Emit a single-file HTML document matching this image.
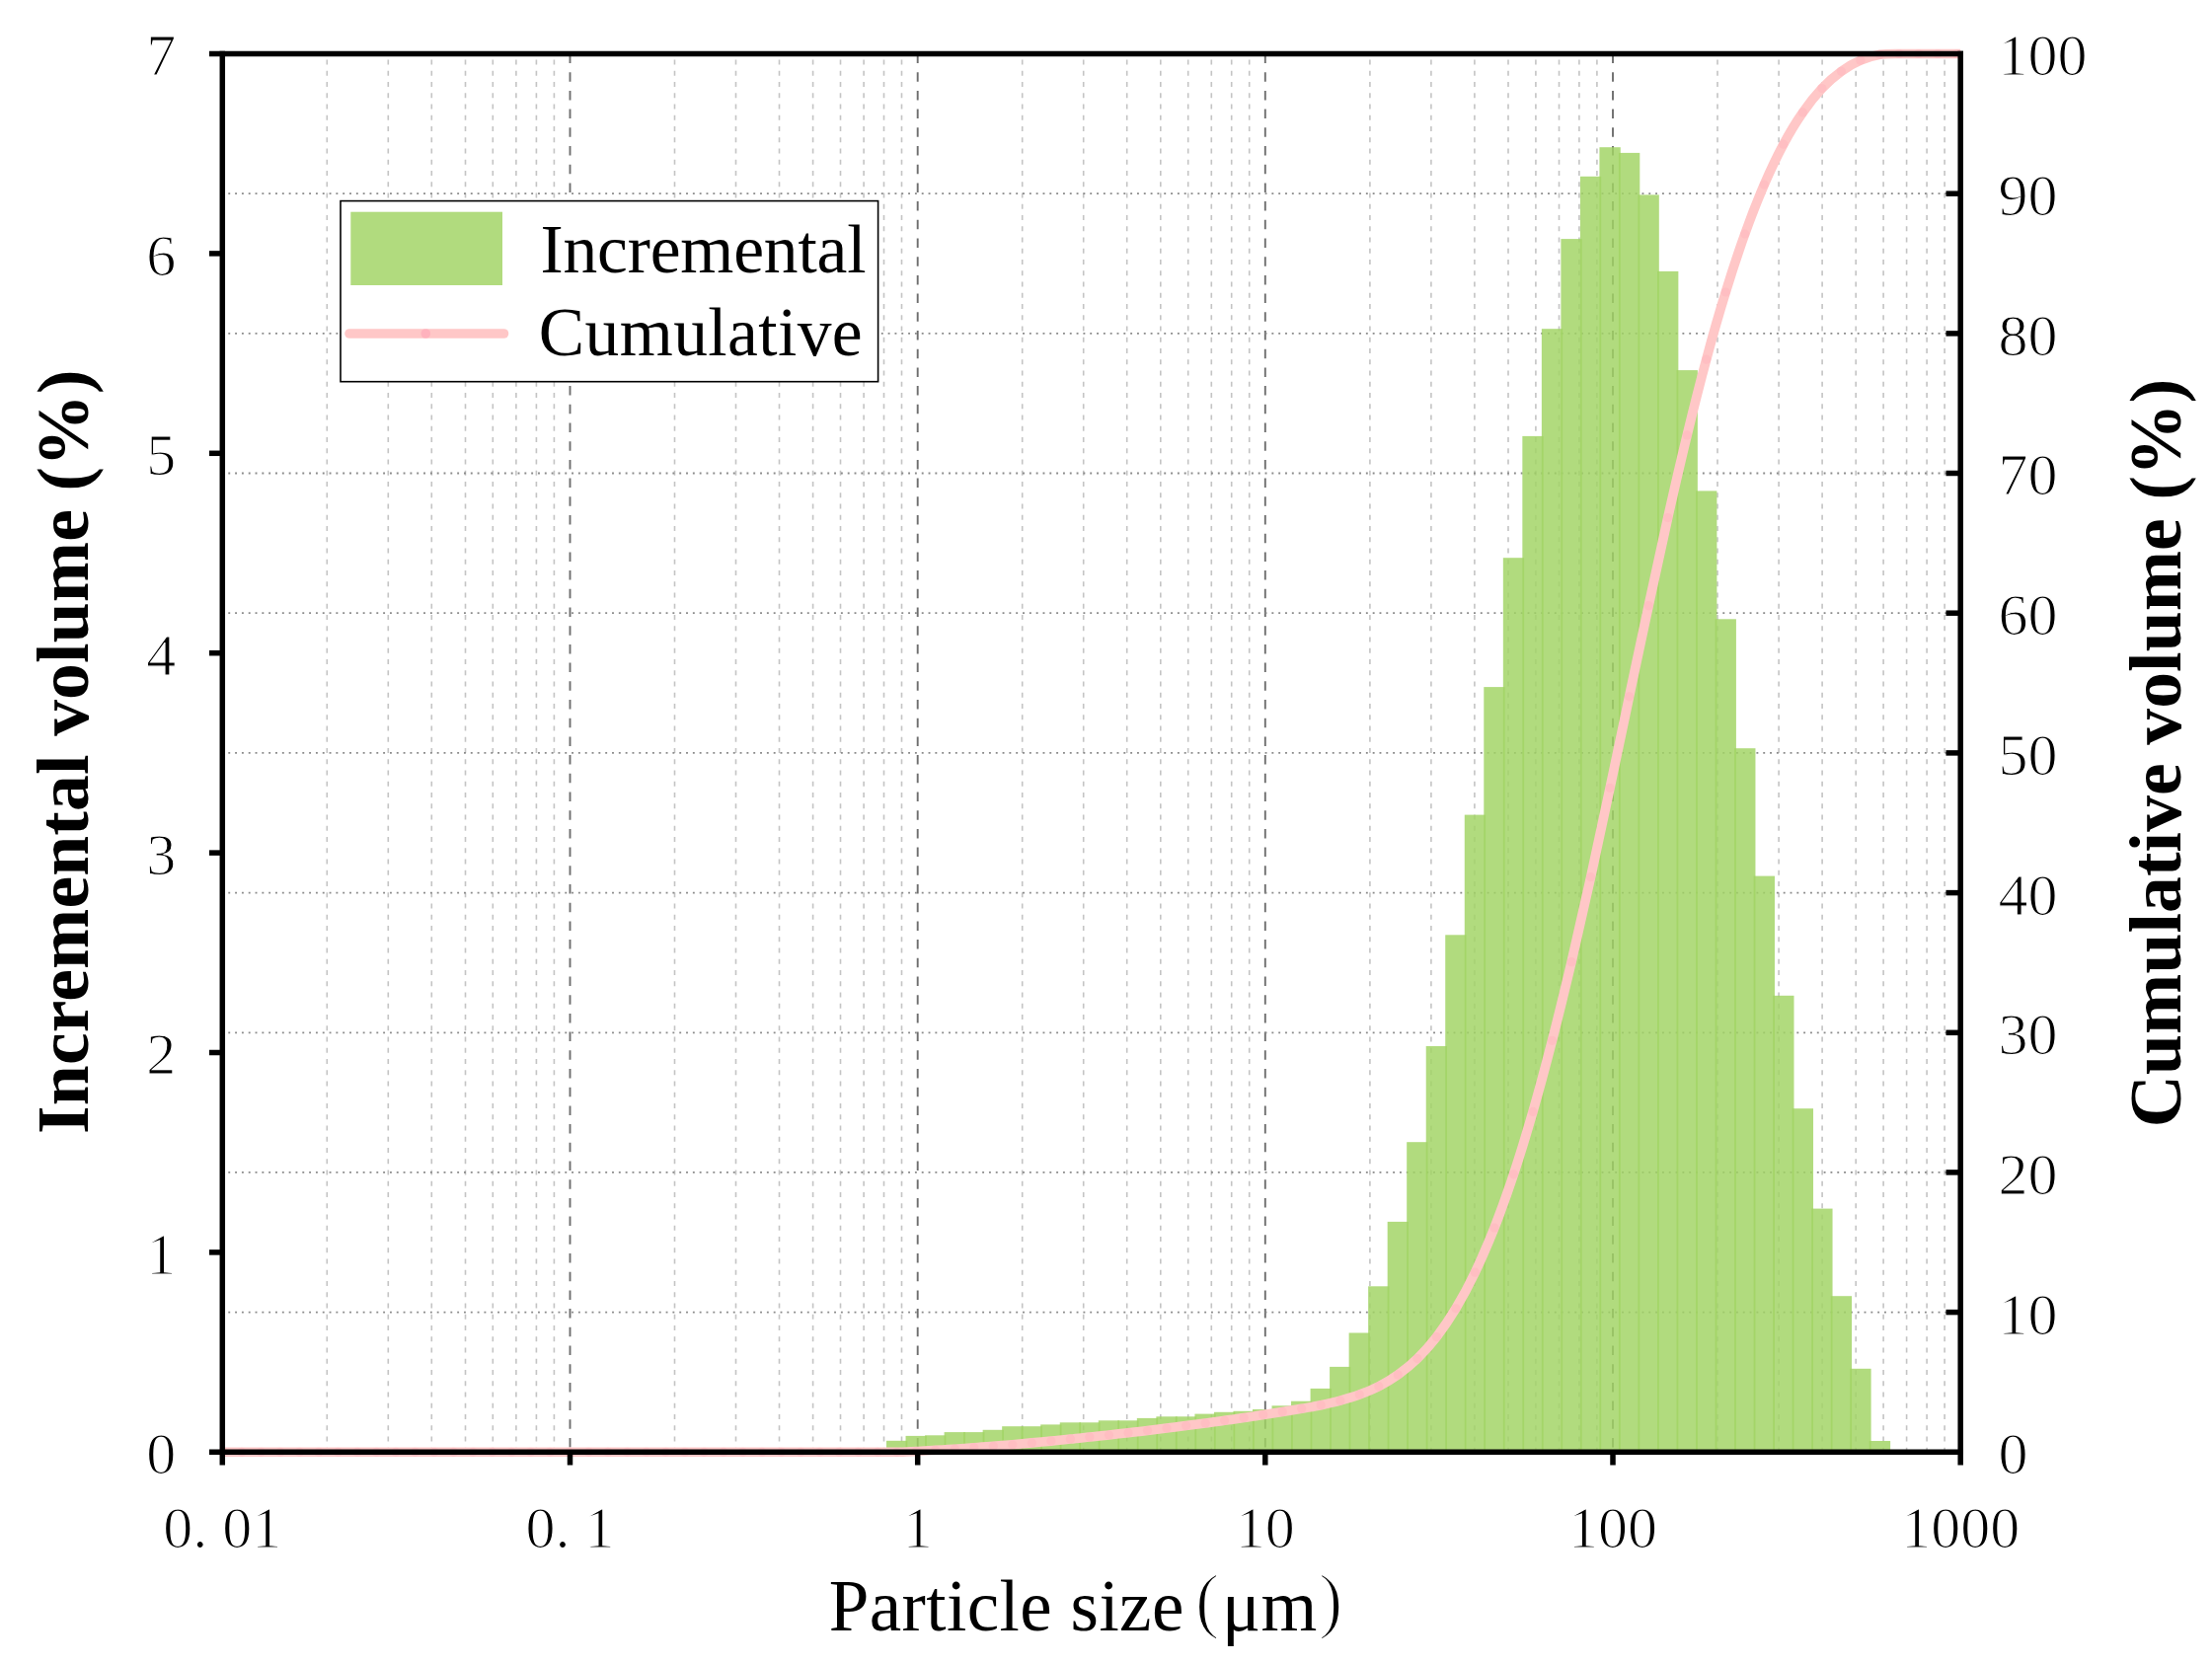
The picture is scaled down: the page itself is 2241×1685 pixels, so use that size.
<!DOCTYPE html>
<html lang="en"><head><meta charset="utf-8"><title>Particle size distribution</title>
<style>html,body{margin:0;padding:0;background:#fff;width:2241px;height:1685px;overflow:hidden}svg{display:block}text{font-family:"Liberation Serif","Noto Serif CJK SC",serif;fill:#000}.tk{font-size:60px;stroke:#fff;stroke-width:1.2px}.ttl{font-size:73.5px;font-weight:bold}.lg{font-size:69.5px}.pr{stroke:#fff;stroke-width:1.8px}</style></head><body>
<svg width="2241" height="1685" viewBox="0 0 2241 1685">
<rect width="2241" height="1685" fill="#fff"/>
<g id="grid" fill="none">
<g stroke="#c4c4c4" stroke-width="1.6" stroke-dasharray="5 6.25">
<line x1="331.3" y1="60.5" x2="331.3" y2="1471.3"/>
<line x1="393.3" y1="60.5" x2="393.3" y2="1471.3"/>
<line x1="437.3" y1="60.5" x2="437.3" y2="1471.3"/>
<line x1="471.5" y1="60.5" x2="471.5" y2="1471.3"/>
<line x1="499.3" y1="60.5" x2="499.3" y2="1471.3"/>
<line x1="522.9" y1="60.5" x2="522.9" y2="1471.3"/>
<line x1="543.4" y1="60.5" x2="543.4" y2="1471.3"/>
<line x1="561.4" y1="60.5" x2="561.4" y2="1471.3"/>
<line x1="683.5" y1="60.5" x2="683.5" y2="1471.3"/>
<line x1="745.5" y1="60.5" x2="745.5" y2="1471.3"/>
<line x1="789.5" y1="60.5" x2="789.5" y2="1471.3"/>
<line x1="823.6" y1="60.5" x2="823.6" y2="1471.3"/>
<line x1="851.5" y1="60.5" x2="851.5" y2="1471.3"/>
<line x1="875.1" y1="60.5" x2="875.1" y2="1471.3"/>
<line x1="895.5" y1="60.5" x2="895.5" y2="1471.3"/>
<line x1="913.5" y1="60.5" x2="913.5" y2="1471.3"/>
<line x1="1035.7" y1="60.5" x2="1035.7" y2="1471.3"/>
<line x1="1097.7" y1="60.5" x2="1097.7" y2="1471.3"/>
<line x1="1141.7" y1="60.5" x2="1141.7" y2="1471.3"/>
<line x1="1175.8" y1="60.5" x2="1175.8" y2="1471.3"/>
<line x1="1203.7" y1="60.5" x2="1203.7" y2="1471.3"/>
<line x1="1227.3" y1="60.5" x2="1227.3" y2="1471.3"/>
<line x1="1247.7" y1="60.5" x2="1247.7" y2="1471.3"/>
<line x1="1265.7" y1="60.5" x2="1265.7" y2="1471.3"/>
<line x1="1387.9" y1="60.5" x2="1387.9" y2="1471.3"/>
<line x1="1449.9" y1="60.5" x2="1449.9" y2="1471.3"/>
<line x1="1493.9" y1="60.5" x2="1493.9" y2="1471.3"/>
<line x1="1528.0" y1="60.5" x2="1528.0" y2="1471.3"/>
<line x1="1555.9" y1="60.5" x2="1555.9" y2="1471.3"/>
<line x1="1579.5" y1="60.5" x2="1579.5" y2="1471.3"/>
<line x1="1599.9" y1="60.5" x2="1599.9" y2="1471.3"/>
<line x1="1617.9" y1="60.5" x2="1617.9" y2="1471.3"/>
<line x1="1740.0" y1="60.5" x2="1740.0" y2="1471.3"/>
<line x1="1802.1" y1="60.5" x2="1802.1" y2="1471.3"/>
<line x1="1846.1" y1="60.5" x2="1846.1" y2="1471.3"/>
<line x1="1880.2" y1="60.5" x2="1880.2" y2="1471.3"/>
<line x1="1908.1" y1="60.5" x2="1908.1" y2="1471.3"/>
<line x1="1931.6" y1="60.5" x2="1931.6" y2="1471.3"/>
<line x1="1952.1" y1="60.5" x2="1952.1" y2="1471.3"/>
<line x1="1970.1" y1="60.5" x2="1970.1" y2="1471.3"/>
</g>
<g stroke="#6e6e6e" stroke-width="1.9" stroke-dasharray="9.5 9.2">
<line x1="577.5" y1="54.5" x2="577.5" y2="1471.3"/>
<line x1="929.7" y1="54.5" x2="929.7" y2="1471.3"/>
<line x1="1281.8" y1="54.5" x2="1281.8" y2="1471.3"/>
<line x1="1634.0" y1="54.5" x2="1634.0" y2="1471.3"/>
</g>
<g stroke="#8a8a8a" stroke-width="1.8" stroke-dasharray="1.9 4.92">
<line x1="231.3" y1="1329.6" x2="1972.2" y2="1329.6"/>
<line x1="231.3" y1="1187.9" x2="1972.2" y2="1187.9"/>
<line x1="231.3" y1="1046.3" x2="1972.2" y2="1046.3"/>
<line x1="231.3" y1="904.6" x2="1972.2" y2="904.6"/>
<line x1="231.3" y1="762.9" x2="1972.2" y2="762.9"/>
<line x1="231.3" y1="621.2" x2="1972.2" y2="621.2"/>
<line x1="231.3" y1="479.5" x2="1972.2" y2="479.5"/>
<line x1="231.3" y1="337.9" x2="1972.2" y2="337.9"/>
<line x1="231.3" y1="196.2" x2="1972.2" y2="196.2"/>
</g></g>
<g id="bars" fill="rgb(161,212,100)" fill-opacity="0.83">
<rect x="898.02" y="1459.8" width="21.33" height="11.5"/>
<rect x="917.54" y="1454.9" width="21.33" height="16.4"/>
<rect x="937.07" y="1454.3" width="21.33" height="17.0"/>
<rect x="956.59" y="1451.1" width="21.33" height="20.2"/>
<rect x="976.12" y="1451.1" width="21.33" height="20.2"/>
<rect x="995.64" y="1448.8" width="21.33" height="22.5"/>
<rect x="1015.17" y="1445.2" width="21.33" height="26.1"/>
<rect x="1034.69" y="1445.2" width="21.33" height="26.1"/>
<rect x="1054.22" y="1443.4" width="21.33" height="27.9"/>
<rect x="1073.74" y="1441.3" width="21.33" height="30.0"/>
<rect x="1093.27" y="1441.3" width="21.33" height="30.0"/>
<rect x="1112.79" y="1439.3" width="21.33" height="32.0"/>
<rect x="1132.32" y="1439.3" width="21.33" height="32.0"/>
<rect x="1151.84" y="1436.9" width="21.33" height="34.4"/>
<rect x="1171.37" y="1435.3" width="21.33" height="36.0"/>
<rect x="1190.89" y="1435.3" width="21.33" height="36.0"/>
<rect x="1210.42" y="1432.6" width="21.33" height="38.7"/>
<rect x="1229.94" y="1430.8" width="21.33" height="40.5"/>
<rect x="1249.47" y="1429.8" width="21.33" height="41.5"/>
<rect x="1268.99" y="1428.0" width="21.33" height="43.3"/>
<rect x="1288.52" y="1424.3" width="21.33" height="47.0"/>
<rect x="1308.04" y="1419.7" width="21.33" height="51.6"/>
<rect x="1327.57" y="1406.9" width="21.33" height="64.4"/>
<rect x="1347.09" y="1384.9" width="21.33" height="86.4"/>
<rect x="1366.62" y="1350.5" width="21.33" height="120.8"/>
<rect x="1386.14" y="1303.3" width="21.33" height="168.0"/>
<rect x="1405.67" y="1237.9" width="21.33" height="233.4"/>
<rect x="1425.19" y="1157.2" width="21.33" height="314.1"/>
<rect x="1444.72" y="1060.0" width="21.33" height="411.3"/>
<rect x="1464.24" y="947.3" width="21.33" height="524.0"/>
<rect x="1483.77" y="825.6" width="21.33" height="645.7"/>
<rect x="1503.29" y="696.1" width="21.33" height="775.2"/>
<rect x="1522.82" y="565.2" width="21.33" height="906.1"/>
<rect x="1542.34" y="441.9" width="21.33" height="1029.4"/>
<rect x="1561.87" y="333.2" width="21.33" height="1138.1"/>
<rect x="1581.39" y="242.1" width="21.33" height="1229.2"/>
<rect x="1600.92" y="178.8" width="21.33" height="1292.5"/>
<rect x="1620.44" y="149.2" width="21.33" height="1322.1"/>
<rect x="1639.97" y="154.9" width="21.33" height="1316.4"/>
<rect x="1659.49" y="197.4" width="21.33" height="1273.9"/>
<rect x="1679.02" y="274.9" width="21.33" height="1196.4"/>
<rect x="1698.54" y="375.1" width="21.33" height="1096.2"/>
<rect x="1718.07" y="497.4" width="21.33" height="973.9"/>
<rect x="1737.60" y="627.3" width="21.33" height="844.0"/>
<rect x="1757.12" y="758.2" width="21.33" height="713.1"/>
<rect x="1776.65" y="887.6" width="21.33" height="583.7"/>
<rect x="1796.17" y="1008.8" width="21.33" height="462.5"/>
<rect x="1815.70" y="1123.2" width="21.33" height="348.1"/>
<rect x="1835.22" y="1224.6" width="21.33" height="246.7"/>
<rect x="1854.75" y="1313.2" width="21.33" height="158.1"/>
<rect x="1874.27" y="1386.8" width="21.33" height="84.5"/>
<rect x="1893.80" y="1460.0" width="21.33" height="11.3"/>
</g>
<path d="M225.3,1471.3 C228.6,1471.3 238.3,1471.3 244.8,1471.3 C251.3,1471.3 257.8,1471.3 264.4,1471.3 C270.9,1471.3 277.4,1471.3 283.9,1471.3 C290.4,1471.3 296.9,1471.3 303.4,1471.3 C309.9,1471.3 316.4,1471.3 322.9,1471.3 C329.4,1471.3 335.9,1471.3 342.5,1471.3 C349.0,1471.3 355.5,1471.3 362.0,1471.3 C368.5,1471.3 375.0,1471.3 381.5,1471.3 C388.0,1471.3 394.5,1471.3 401.0,1471.3 C407.5,1471.3 414.0,1471.3 420.6,1471.3 C427.1,1471.3 433.6,1471.3 440.1,1471.3 C446.6,1471.3 453.1,1471.3 459.6,1471.3 C466.1,1471.3 472.6,1471.3 479.1,1471.3 C485.6,1471.3 492.1,1471.3 498.7,1471.3 C505.2,1471.3 511.7,1471.3 518.2,1471.3 C524.7,1471.3 531.2,1471.3 537.7,1471.3 C544.2,1471.3 550.7,1471.3 557.2,1471.3 C563.7,1471.3 570.2,1471.3 576.8,1471.3 C583.3,1471.3 589.8,1471.3 596.3,1471.3 C602.8,1471.3 609.3,1471.3 615.8,1471.3 C622.3,1471.3 628.8,1471.3 635.3,1471.3 C641.8,1471.3 648.3,1471.3 654.9,1471.3 C661.4,1471.3 667.9,1471.3 674.4,1471.3 C680.9,1471.3 687.4,1471.3 693.9,1471.3 C700.4,1471.3 706.9,1471.3 713.4,1471.3 C719.9,1471.3 726.4,1471.3 733.0,1471.3 C739.5,1471.3 746.0,1471.3 752.5,1471.3 C759.0,1471.3 765.5,1471.3 772.0,1471.3 C778.5,1471.3 785.0,1471.3 791.5,1471.3 C798.0,1471.3 804.5,1471.3 811.1,1471.3 C817.6,1471.3 824.1,1471.3 830.6,1471.3 C837.1,1471.3 843.6,1471.3 850.1,1471.3 C856.6,1471.3 863.1,1471.3 869.6,1471.3 C876.1,1471.3 882.6,1471.3 889.2,1471.3 C895.7,1471.3 902.2,1471.3 908.7,1471.3 C915.2,1471.2 921.7,1470.8 928.2,1470.5 C934.7,1470.2 941.2,1469.7 947.7,1469.3 C954.2,1469.0 960.7,1468.6 967.3,1468.2 C973.8,1467.7 980.3,1467.2 986.8,1466.7 C993.3,1466.3 999.8,1465.8 1006.3,1465.3 C1012.8,1464.8 1019.3,1464.3 1025.8,1463.8 C1032.3,1463.2 1038.8,1462.5 1045.4,1461.9 C1051.9,1461.3 1058.4,1460.7 1064.9,1460.1 C1071.4,1459.5 1077.9,1458.8 1084.4,1458.1 C1090.9,1457.5 1097.4,1456.7 1103.9,1456.0 C1110.4,1455.4 1116.9,1454.7 1123.5,1454.0 C1130.0,1453.2 1136.5,1452.5 1143.0,1451.7 C1149.5,1451.0 1156.0,1450.3 1162.5,1449.5 C1169.0,1448.7 1175.5,1447.9 1182.0,1447.1 C1188.5,1446.2 1195.0,1445.4 1201.6,1444.6 C1208.1,1443.7 1214.6,1442.9 1221.1,1442.0 C1227.6,1441.2 1234.1,1440.2 1240.6,1439.3 C1247.1,1438.4 1253.6,1437.4 1260.1,1436.5 C1266.6,1435.5 1273.1,1434.6 1279.7,1433.6 C1286.2,1432.6 1292.7,1431.6 1299.2,1430.6 C1305.7,1429.5 1312.2,1428.4 1318.7,1427.3 C1325.2,1426.1 1331.7,1425.0 1338.2,1423.7 C1344.7,1422.3 1351.2,1420.9 1357.8,1419.2 C1364.3,1417.4 1370.8,1415.5 1377.3,1413.1 C1383.8,1410.7 1390.3,1408.0 1396.8,1404.7 C1403.3,1401.3 1409.8,1397.6 1416.3,1392.9 C1422.8,1388.2 1429.3,1383.0 1435.9,1376.6 C1442.4,1370.2 1448.9,1363.1 1455.4,1354.6 C1461.9,1346.1 1468.4,1336.7 1474.9,1325.8 C1481.4,1314.9 1487.9,1302.8 1494.4,1289.2 C1500.9,1275.5 1507.4,1260.6 1514.0,1244.0 C1520.5,1227.4 1527.0,1209.4 1533.5,1189.8 C1540.0,1170.2 1546.5,1148.9 1553.0,1126.4 C1559.5,1103.8 1566.0,1079.6 1572.5,1054.3 C1579.0,1029.1 1585.5,1002.3 1592.1,974.7 C1598.6,947.1 1605.1,918.1 1611.6,888.7 C1618.1,859.3 1624.6,828.8 1631.1,798.3 C1637.6,767.8 1644.1,736.6 1650.6,705.8 C1657.1,675.0 1663.6,643.9 1670.2,613.7 C1676.7,583.5 1683.2,553.4 1689.7,524.6 C1696.2,495.8 1702.7,467.6 1709.2,440.9 C1715.7,414.1 1722.2,388.3 1728.7,364.2 C1735.2,340.0 1741.7,317.2 1748.3,296.0 C1754.8,274.8 1761.3,255.1 1767.8,237.0 C1774.3,218.8 1780.8,202.2 1787.3,187.1 C1793.8,172.0 1800.3,158.4 1806.8,146.2 C1813.3,134.0 1819.8,123.3 1826.4,113.9 C1832.9,104.4 1839.4,96.5 1845.9,89.5 C1852.4,82.6 1858.9,77.0 1865.4,72.3 C1871.9,67.5 1878.4,64.0 1884.9,61.2 C1891.4,58.4 1898.0,56.4 1904.5,55.3 C1911.0,54.5 1917.5,54.6 1924.0,54.5 C1930.5,54.5 1937.0,54.5 1943.5,54.5 C1950.0,54.5 1956.5,54.5 1963.0,54.5 C1969.5,54.5 1978.7,54.5 1982.6,54.5 C1986.4,54.5 1985.6,54.5 1986.2,54.5" fill="none" stroke="rgb(255,199,199)" stroke-width="9.6" stroke-linejoin="round" stroke-linecap="butt"/>
<g fill="rgb(255,170,185)" fill-opacity="0.32">
<circle cx="225.3" cy="1471.3" r="4.6"/>
<circle cx="244.8" cy="1471.3" r="4.6"/>
<circle cx="264.4" cy="1471.3" r="4.6"/>
<circle cx="283.9" cy="1471.3" r="4.6"/>
<circle cx="303.4" cy="1471.3" r="4.6"/>
<circle cx="322.9" cy="1471.3" r="4.6"/>
<circle cx="342.5" cy="1471.3" r="4.6"/>
<circle cx="362.0" cy="1471.3" r="4.6"/>
<circle cx="381.5" cy="1471.3" r="4.6"/>
<circle cx="401.0" cy="1471.3" r="4.6"/>
<circle cx="420.6" cy="1471.3" r="4.6"/>
<circle cx="440.1" cy="1471.3" r="4.6"/>
<circle cx="459.6" cy="1471.3" r="4.6"/>
<circle cx="479.1" cy="1471.3" r="4.6"/>
<circle cx="498.7" cy="1471.3" r="4.6"/>
<circle cx="518.2" cy="1471.3" r="4.6"/>
<circle cx="537.7" cy="1471.3" r="4.6"/>
<circle cx="557.2" cy="1471.3" r="4.6"/>
<circle cx="576.8" cy="1471.3" r="4.6"/>
<circle cx="596.3" cy="1471.3" r="4.6"/>
<circle cx="615.8" cy="1471.3" r="4.6"/>
<circle cx="635.3" cy="1471.3" r="4.6"/>
<circle cx="654.9" cy="1471.3" r="4.6"/>
<circle cx="674.4" cy="1471.3" r="4.6"/>
<circle cx="693.9" cy="1471.3" r="4.6"/>
<circle cx="713.4" cy="1471.3" r="4.6"/>
<circle cx="733.0" cy="1471.3" r="4.6"/>
<circle cx="752.5" cy="1471.3" r="4.6"/>
<circle cx="772.0" cy="1471.3" r="4.6"/>
<circle cx="791.5" cy="1471.3" r="4.6"/>
<circle cx="811.1" cy="1471.3" r="4.6"/>
<circle cx="830.6" cy="1471.3" r="4.6"/>
<circle cx="850.1" cy="1471.3" r="4.6"/>
<circle cx="869.6" cy="1471.3" r="4.6"/>
<circle cx="889.2" cy="1471.3" r="4.6"/>
<circle cx="908.7" cy="1471.3" r="4.6"/>
<circle cx="928.2" cy="1470.5" r="4.6"/>
<circle cx="947.7" cy="1469.3" r="4.6"/>
<circle cx="967.3" cy="1468.2" r="4.6"/>
<circle cx="986.8" cy="1466.7" r="4.6"/>
<circle cx="1006.3" cy="1465.3" r="4.6"/>
<circle cx="1025.8" cy="1463.8" r="4.6"/>
<circle cx="1045.4" cy="1461.9" r="4.6"/>
<circle cx="1064.9" cy="1460.1" r="4.6"/>
<circle cx="1084.4" cy="1458.1" r="4.6"/>
<circle cx="1103.9" cy="1456.0" r="4.6"/>
<circle cx="1123.5" cy="1454.0" r="4.6"/>
<circle cx="1143.0" cy="1451.7" r="4.6"/>
<circle cx="1162.5" cy="1449.5" r="4.6"/>
<circle cx="1182.0" cy="1447.1" r="4.6"/>
<circle cx="1201.6" cy="1444.6" r="4.6"/>
<circle cx="1221.1" cy="1442.0" r="4.6"/>
<circle cx="1240.6" cy="1439.3" r="4.6"/>
<circle cx="1260.1" cy="1436.5" r="4.6"/>
<circle cx="1279.7" cy="1433.6" r="4.6"/>
<circle cx="1299.2" cy="1430.6" r="4.6"/>
<circle cx="1318.7" cy="1427.3" r="4.6"/>
<circle cx="1338.2" cy="1423.7" r="4.6"/>
<circle cx="1357.8" cy="1419.2" r="4.6"/>
<circle cx="1377.3" cy="1413.1" r="4.6"/>
<circle cx="1396.8" cy="1404.7" r="4.6"/>
<circle cx="1416.3" cy="1392.9" r="4.6"/>
<circle cx="1435.9" cy="1376.6" r="4.6"/>
<circle cx="1455.4" cy="1354.6" r="4.6"/>
<circle cx="1474.9" cy="1325.8" r="4.6"/>
<circle cx="1494.4" cy="1289.2" r="4.6"/>
<circle cx="1514.0" cy="1244.0" r="4.6"/>
<circle cx="1533.5" cy="1189.8" r="4.6"/>
<circle cx="1553.0" cy="1126.4" r="4.6"/>
<circle cx="1572.5" cy="1054.3" r="4.6"/>
<circle cx="1592.1" cy="974.7" r="4.6"/>
<circle cx="1611.6" cy="888.7" r="4.6"/>
<circle cx="1631.1" cy="798.3" r="4.6"/>
<circle cx="1650.6" cy="705.8" r="4.6"/>
<circle cx="1670.2" cy="613.7" r="4.6"/>
<circle cx="1689.7" cy="524.6" r="4.6"/>
<circle cx="1709.2" cy="440.9" r="4.6"/>
<circle cx="1728.7" cy="364.2" r="4.6"/>
<circle cx="1748.3" cy="296.0" r="4.6"/>
<circle cx="1767.8" cy="237.0" r="4.6"/>
<circle cx="1787.3" cy="187.1" r="4.6"/>
<circle cx="1806.8" cy="146.2" r="4.6"/>
<circle cx="1826.4" cy="113.9" r="4.6"/>
<circle cx="1845.9" cy="89.5" r="4.6"/>
<circle cx="1865.4" cy="72.3" r="4.6"/>
<circle cx="1884.9" cy="61.2" r="4.6"/>
<circle cx="1904.5" cy="55.3" r="4.6"/>
<circle cx="1924.0" cy="54.5" r="4.6"/>
<circle cx="1943.5" cy="54.5" r="4.6"/>
<circle cx="1963.0" cy="54.5" r="4.6"/>
<circle cx="1982.6" cy="54.5" r="4.6"/>
</g>
<g id="axes" stroke="#000" stroke-width="5.5" fill="none" stroke-linecap="butt">
<line x1="212.0" y1="54.5" x2="1988.95" y2="54.5"/>
<line x1="212.0" y1="1471.3" x2="1988.95" y2="1471.3"/>
<line x1="225.3" y1="51.75" x2="225.3" y2="1484.5"/>
<line x1="1986.2" y1="51.75" x2="1986.2" y2="1484.5"/>
<line x1="212.0" y1="1268.9" x2="225.3" y2="1268.9"/>
<line x1="212.0" y1="1066.5" x2="225.3" y2="1066.5"/>
<line x1="212.0" y1="864.1" x2="225.3" y2="864.1"/>
<line x1="212.0" y1="661.7" x2="225.3" y2="661.7"/>
<line x1="212.0" y1="459.3" x2="225.3" y2="459.3"/>
<line x1="212.0" y1="256.9" x2="225.3" y2="256.9"/>
<line x1="577.5" y1="1471.3" x2="577.5" y2="1484.5"/>
<line x1="929.7" y1="1471.3" x2="929.7" y2="1484.5"/>
<line x1="1281.8" y1="1471.3" x2="1281.8" y2="1484.5"/>
<line x1="1634.0" y1="1471.3" x2="1634.0" y2="1484.5"/>
<line x1="1971.5" y1="1329.6" x2="1986.2" y2="1329.6"/>
<line x1="1971.5" y1="1187.9" x2="1986.2" y2="1187.9"/>
<line x1="1971.5" y1="1046.3" x2="1986.2" y2="1046.3"/>
<line x1="1971.5" y1="904.6" x2="1986.2" y2="904.6"/>
<line x1="1971.5" y1="762.9" x2="1986.2" y2="762.9"/>
<line x1="1971.5" y1="621.2" x2="1986.2" y2="621.2"/>
<line x1="1971.5" y1="479.5" x2="1986.2" y2="479.5"/>
<line x1="1971.5" y1="337.9" x2="1986.2" y2="337.9"/>
<line x1="1971.5" y1="196.2" x2="1986.2" y2="196.2"/>
</g>
<g class="tk">
<text x="163.3" y="1493.2" text-anchor="middle">0</text>
<text x="163.3" y="1290.8" text-anchor="middle">1</text>
<text x="163.3" y="1088.4" text-anchor="middle">2</text>
<text x="163.3" y="886.0" text-anchor="middle">3</text>
<text x="163.3" y="683.6" text-anchor="middle">4</text>
<text x="163.3" y="481.2" text-anchor="middle">5</text>
<text x="163.3" y="278.8" text-anchor="middle">6</text>
<text x="163.3" y="76.4" text-anchor="middle">7</text>
<text x="2024.5" y="1493.2">0</text>
<text x="2024.5" y="1351.5">10</text>
<text x="2024.5" y="1209.8">20</text>
<text x="2024.5" y="1068.2">30</text>
<text x="2024.5" y="926.5">40</text>
<text x="2024.5" y="784.8">50</text>
<text x="2024.5" y="643.1">60</text>
<text x="2024.5" y="501.4">70</text>
<text x="2024.5" y="359.8">80</text>
<text x="2024.5" y="218.1">90</text>
<text x="2024.5" y="76.4">100</text>
<text y="1568.3" x="165.3 195.3 225.3 255.3">0.01</text>
<text y="1568.3" x="532.5 562.5 592.5">0.1</text>
<text y="1568.3" x="929.7" text-anchor="middle">1</text>
<text y="1568.3" x="1281.8" text-anchor="middle">10</text>
<text y="1568.3" x="1634.0" text-anchor="middle">100</text>
<text y="1568.3" x="1986.2" text-anchor="middle">1000</text>
</g>
<text class="ttl" style="letter-spacing:0.2px" transform="translate(88.7 1149) rotate(-90)">Incremental volume (%)</text>
<text class="ttl" style="letter-spacing:0.15px" transform="translate(2208.7 1142.2) rotate(-90)">Cumulative volume (%)</text>
<text style="font-size:73px;letter-spacing:0.4px" x="839.8" y="1652">Particle size<tspan class="pr" x="1211" dy="-6">(</tspan><tspan x="1238" dy="6">μm</tspan><tspan class="pr" x="1336" dy="-6">)</tspan></text>
<g id="legend">
<rect x="345" y="203.6" width="544.6" height="183.1" fill="#fff" stroke="#000" stroke-width="1.6"/>
<rect x="355.3" y="214.7" width="153.7" height="74.3" fill="rgb(177,219,126)"/>
<line x1="354" y1="338" x2="510.5" y2="338" stroke="rgb(255,199,199)" stroke-width="9.6" stroke-linecap="round"/>
<circle cx="431.3" cy="338" r="4.8" fill="rgb(255,170,185)" fill-opacity="0.7"/>
<text class="lg" style="letter-spacing:-0.2px" x="547.6" y="275.5">Incremental</text>
<text class="lg" style="letter-spacing:0.4px" x="545.8" y="360.4">Cumulative</text>
</g>
</svg></body></html>
